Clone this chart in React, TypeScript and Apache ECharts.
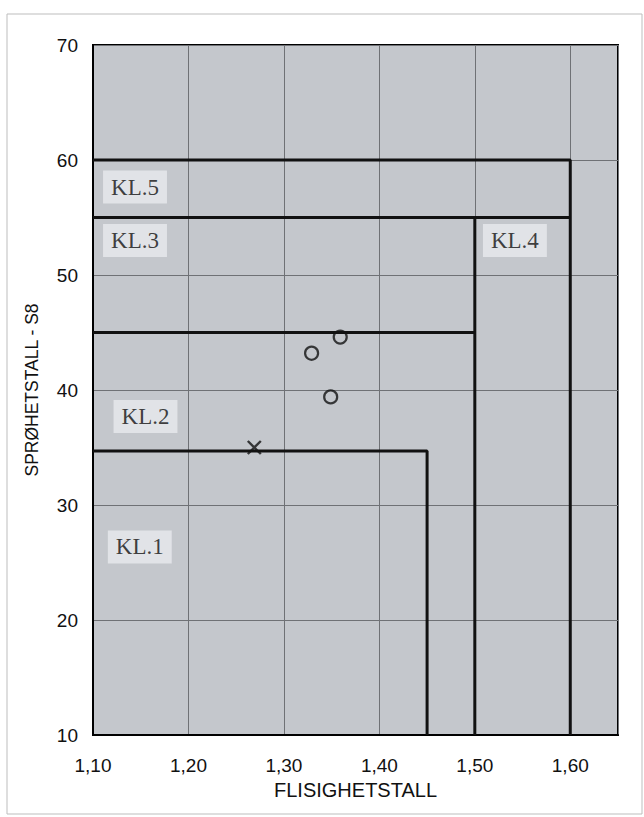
import React, { useEffect, useRef } from "react";
import * as echarts from "echarts";

const xTicks = [1.1, 1.2, 1.3, 1.4, 1.5, 1.6];
const yTicks = [10, 20, 30, 40, 50, 60, 70];

const kl5Boundary = [[1.1, 60], [1.6, 60], [1.6, 10]];
const kl3Boundary = [[1.1, 55], [1.6, 55]];
const kl4Boundary = [[1.5, 55], [1.5, 10]];
const kl2Boundary = [[1.1, 45], [1.5, 45]];
const kl1Boundary = [[1.1, 34.7], [1.45, 34.7], [1.45, 10]];

const circlePoints = [[1.329, 43.2], [1.359, 44.6], [1.349, 39.4]];
const crossPoints = [[1.269, 35.0]];

const classLabels = ["KL.5", "KL.3", "KL.4", "KL.2", "KL.1"];
const classLabelPos = [[1.144, 57.65], [1.144, 53.0], [1.542, 53.0], [1.155, 37.7], [1.149, 26.35]];

export default function App() {
  const ref = useRef<HTMLDivElement>(null);
  useEffect(() => {
    const chart = echarts.init(ref.current!, null, { renderer: "svg" });
    const lineSeries = (data: number[][]) => ({
      type: "line",
      data,
      symbol: "none",
      lineStyle: { color: "#111", width: 3 },
      z: 3,
      silent: true,
    });
    chart.setOption({
      animation: false,
      backgroundColor: "#fff",
      graphic: [
        {
          type: "rect",
          shape: { x: 7, y: 14, width: 635, height: 800 },
          style: { fill: "none", stroke: "#bdbdbd", lineWidth: 1 },
          silent: true,
          z: -10,
        },
      ],
      grid: {
        left: 93,
        top: 45,
        width: 525,
        height: 690,
        show: true,
        backgroundColor: "#c4c7cc",
        borderColor: "#000",
        borderWidth: 2,
      },
      xAxis: {
        type: "value",
        min: 1.1,
        max: 1.65,
        interval: 0.1,
        name: "FLISIGHETSTALL",
        nameLocation: "middle",
        nameGap: 43,
        nameTextStyle: { fontFamily: "Liberation Sans", fontSize: 20, color: "#111" },
        axisLine: { show: true, lineStyle: { color: "#000", width: 2 } },
        axisTick: { show: false },
        axisLabel: {
          margin: 21,
          fontFamily: "Liberation Sans",
          fontSize: 19,
          color: "#111",
          showMaxLabel: false,
          formatter: (v: number) => {
            const hit = xTicks.find((t) => Math.abs(t - v) < 1e-6);
            return hit !== undefined ? hit.toFixed(2).replace(".", ",") : "";
          },
        },
        splitLine: { show: true, lineStyle: { color: "#6f7175", width: 1 } },
      },
      yAxis: {
        type: "value",
        min: yTicks[0],
        max: yTicks[yTicks.length - 1],
        interval: 10,
        name: "SPRØHETSTALL - S8",
        nameLocation: "middle",
        nameGap: 52,
        nameTextStyle: { fontFamily: "Liberation Sans", fontSize: 17.5, color: "#111" },
        axisLine: { show: true, lineStyle: { color: "#000", width: 2 } },
        axisTick: { show: false },
        axisLabel: {
          margin: 15,
          fontFamily: "Liberation Sans",
          fontSize: 19,
          color: "#111",
        },
        splitLine: { show: true, lineStyle: { color: "#6f7175", width: 1 } },
      },
      series: [
        lineSeries(kl5Boundary),
        lineSeries(kl3Boundary),
        lineSeries(kl4Boundary),
        lineSeries(kl2Boundary),
        lineSeries(kl1Boundary),
        {
          type: "scatter",
          data: circlePoints,
          symbol: "circle",
          symbolSize: 13,
          itemStyle: { color: "transparent", borderColor: "#111", borderWidth: 2.2 },
          z: 5,
        },
        {
          type: "scatter",
          data: crossPoints,
          symbol: "path://M0,0L10,10M10,0L0,10",
          symbolSize: 13,
          itemStyle: { color: "none", borderColor: "#111", borderWidth: 2.4 },
          z: 5,
        },
        {
          type: "scatter",
          data: classLabelPos.map((p, i) => ({ value: p, name: classLabels[i] })),
          symbolSize: 0,
          silent: true,
          z: 4,
          label: {
            show: true,
            position: "inside",
            formatter: (p: any) => p.name,
            fontFamily: "Liberation Serif",
            fontSize: 23,
            color: "#111",
            backgroundColor: "#e8eaee",
            padding: [6, 8, 4, 8],
          },
        },
      ],
    });
    return () => chart.dispose();
  }, []);
  return (
    <div
      ref={ref}
      style={{ position: "fixed", left: 0, top: 0, width: 644, height: 817 }}
    />
  );
}
